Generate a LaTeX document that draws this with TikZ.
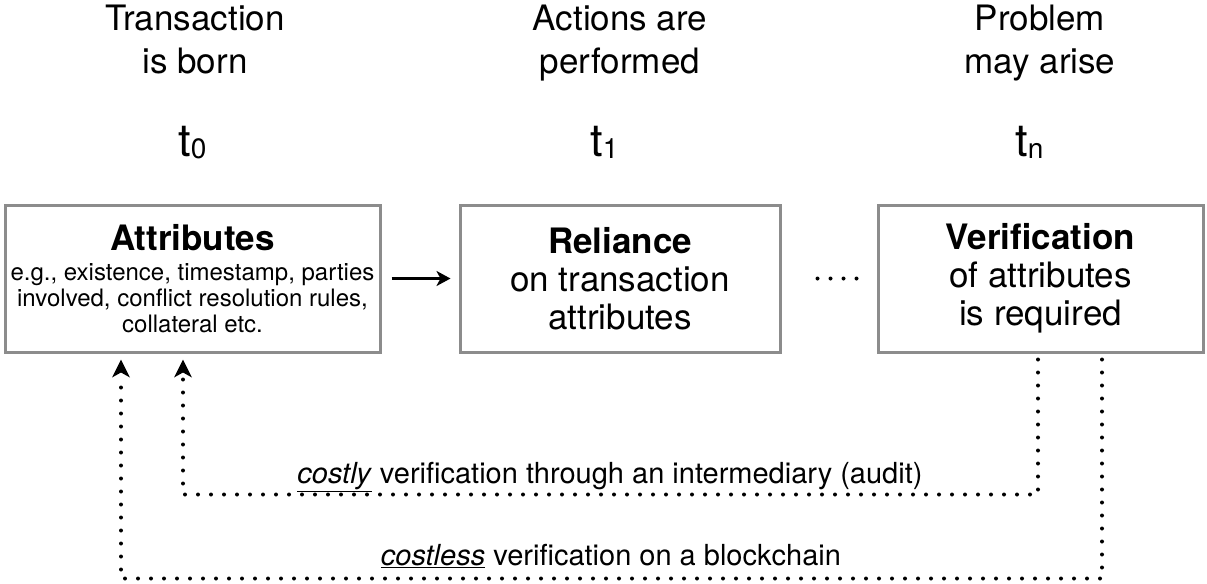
\documentclass[tikz,border=0pt]{standalone}
\usepackage{fontspec}
\setmainfont{TeX Gyre Heros}
\usetikzlibrary{arrows.meta,calc}
\definecolor{boxgray}{RGB}{140,140,140}
\newcommand\tsubscr[1]{\raisebox{-2pt}{\fontsize{21pt}{21pt}\selectfont #1}}
\begin{document}
\begin{tikzpicture}[x=0.75pt,y=-0.75pt,
  box/.style={draw=boxgray,line width=2.25pt,inner sep=0pt,align=center,minimum height=110.25pt},
  titletext/.style={font=\fontsize{26.25pt}{32.25pt}\selectfont,align=center,anchor=north,inner sep=0pt},
  tlab/.style={font=\fontsize{34pt}{34pt}\selectfont,anchor=base west,inner sep=0pt},
  dotline/.style={line width=3pt,line cap=round,dash pattern=on 0pt off 9.75pt},
  mainarrow/.style={line width=2.25pt,-{Stealth[length=10.5pt,width=11.25pt,inset=3pt]}},
  lab/.style={font=\fontsize{21.75pt}{21.75pt}\selectfont,anchor=base,inner sep=0pt}]
\fill[white] (0,0) rectangle (1207,583);
\useasboundingbox (0,0) rectangle (1207,583);

% titles
\node[titletext] (h1) at (195,5) {Transaction\\is born};
\node[titletext] (h2) at (620,5) {Actions are\\performed};
\node[titletext] (h3) at (1040,5) {Problem\\may arise};

% time labels
\node[tlab] (t0) at (178,156) {t\tsubscr{0}};
\node[tlab] (t1) at (590,156) {t\tsubscr{1}};
\node[tlab] (tn) at (1015,156) {t\tsubscr{n}};

% boxes
\node[box,minimum width=281.25pt,font=\fontsize{18pt}{19.5pt}\selectfont] (b1) at (192.5,278.5)
  {{\fontsize{26.25pt}{26.25pt}\selectfont\bfseries Attributes}\\[3pt]
   e.g., existence, timestamp, parties\\
   involved, conflict resolution rules,\\
   collateral etc.};
\node[box,minimum width=240pt,font=\fontsize{26.25pt}{28.5pt}\selectfont] (b2) at (620,278.5)
  {\textbf{Reliance}\\on transaction\\attributes};
\node[box,minimum width=243.75pt,font=\fontsize{26.25pt}{28.5pt}\selectfont] (b3) at (1040.5,278.5)
  {\textbf{Verification}\\of attributes\\is required};

% connectors between boxes
\draw[mainarrow,shorten <=7.5pt,shorten >=6pt] (b1.east) -- (b2.west);
\draw[dotline,shorten <=27pt,shorten >=12pt] (b2.east) -- (b3.west);

% verification loops
\coordinate (ia) at ($(b3.south)+(-2.5,6)$);
\coordinate (ib) at ($(b1.south)+(-9.5,141)$);
\coordinate (ic) at ($(b1.south)+(-9.5,6)$);
\coordinate (oa) at ($(b3.south)+(61.5,6)$);
\coordinate (ob) at ($(b1.south)+(-71.5,225)$);
\coordinate (oc) at ($(b1.south)+(-71.5,6)$);
\draw[dotline] (ia) |- (ib) -- ($(ic)+(0,16)$);
\draw[dotline] (oa) |- (ob) -- ($(oc)+(0,16)$);
\fill (ic) -- ++(-9,18) -- ++(9,-5) -- ++(9,5) -- cycle;
\fill (oc) -- ++(-9,18) -- ++(9,-5) -- ++(9,5) -- cycle;

% labels
\node[lab] (l1) at (610,483) {\underline{\textit{costly}} verification through an intermediary (audit)};
\node[lab] (l2) at (611,565) {\underline{\textit{costless}} verification on a blockchain};
\end{tikzpicture}
\end{document}
